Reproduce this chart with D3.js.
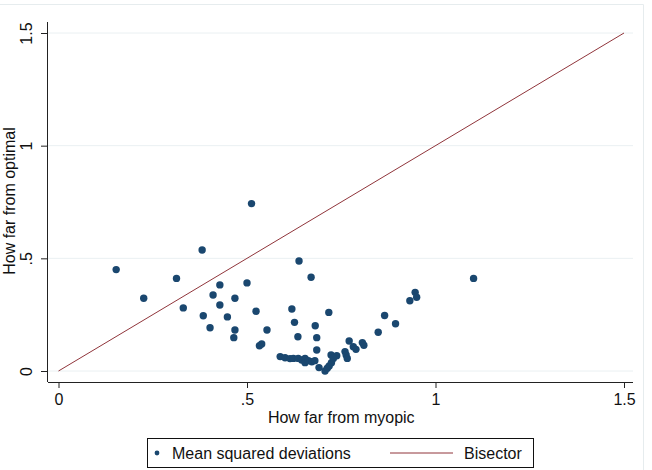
<!DOCTYPE html>
<html>
<head>
<meta charset="utf-8">
<script src="https://cdn.jsdelivr.net/npm/d3@7"></script>
<style>
  body { margin: 0; background: #fff; }
  text { font-family: "Liberation Sans", Arial, sans-serif; fill: #111; }
</style>
</head>
<body>
<div id="graf"></div>
<script>
// datos: distancia al miope (x) y al optimo (y)
var myopic = [0.153, 0.226, 0.313, 0.331, 0.381, 0.384, 0.402, 0.410, 0.428, 0.428,
  0.448, 0.468, 0.468, 0.465, 0.500, 0.512, 0.524, 0.533, 0.539, 0.553,
  0.638, 0.670, 0.619, 0.626, 0.635, 0.681, 0.685, 0.685, 0.717,
  0.588, 0.601, 0.614, 0.623, 0.636, 0.645, 0.654, 0.654, 0.663, 0.672,
  0.680, 0.691, 0.707, 0.713, 0.718, 0.724, 0.723, 0.738, 0.729,
  0.760, 0.763, 0.766, 0.771, 0.782, 0.789, 0.806, 0.810,
  0.848, 0.865, 0.894, 0.932, 0.946, 0.950, 1.101]
var optimal = [0.450, 0.323, 0.411, 0.280, 0.537, 0.245, 0.192, 0.337, 0.382, 0.293,
  0.240, 0.323, 0.182, 0.148, 0.391, 0.743, 0.265, 0.112, 0.120, 0.182,
  0.488, 0.416, 0.275, 0.216, 0.152, 0.201, 0.148, 0.093, 0.260,
  0.064, 0.059, 0.055, 0.056, 0.056, 0.049, 0.056, 0.037, 0.046, 0.041,
  0.046, 0.015, 0.000, 0.012, 0.022, 0.037, 0.071, 0.068, 0.056,
  0.086, 0.071, 0.056, 0.133, 0.108, 0.096, 0.126, 0.114,
  0.172, 0.246, 0.210, 0.312, 0.349, 0.327, 0.411]
var bisector = [0, 1.5]
var xTicks = [0, 0.5, 1, 1.5]
var yTicks = [0, 0.5, 1, 1.5]
var tickLabel = d => d === 0 ? '0' : (d < 1 ? String(d).slice(1) : String(d))

var data = myopic.map((d, i) => ({ x: d, y: optimal[i] }))

var ancho_total = 652, alto_total = 470
var svg = d3.select('#graf').append('svg')
  .attr('width', ancho_total).attr('height', alto_total)

var x = d3.scaleLinear().domain([0, 1.5]).range([58.5, 624])
var y = d3.scaleLinear().domain([0, 1.5]).range([371, 33])

var navy = '#1a476f', maroon = '#90353b'
var fuente = '"Liberation Sans", Arial, sans-serif'

// marco tenue
svg.append('path')
  .attr('d', 'M0,4.5 H643.5 V470')
  .attr('fill', 'none').attr('stroke', '#e6ecee')

// lineas de grilla
svg.append('g').selectAll('line').data(yTicks).enter().append('line')
  .attr('x1', 48).attr('x2', 633)
  .attr('y1', d => y(d)).attr('y2', d => y(d))
  .attr('stroke', '#eaf0f2').attr('stroke-width', 1)

// ejes
var xAxis = svg.append('g').attr('transform', 'translate(0,382)')
  .call(d3.axisBottom(x).tickValues(xTicks).tickFormat(tickLabel).tickSizeOuter(0).tickSize(6).tickPadding(6))
xAxis.select('.domain').attr('d', 'M48,0.5H633').attr('stroke', '#222')
xAxis.selectAll('.tick line').attr('stroke', '#222')
xAxis.selectAll('.tick text').attr('font-size', 16).attr('fill', '#111')
  .attr('font-family', fuente)

var yAxis = svg.append('g').attr('transform', 'translate(48,0)')
  .call(d3.axisLeft(y).tickValues(yTicks).tickFormat(tickLabel).tickSizeOuter(0).tickSize(7))
yAxis.select('.domain').attr('d', 'M-0.5,22V382').attr('stroke', '#222')
yAxis.selectAll('.tick line').attr('stroke', '#222')
yAxis.selectAll('.tick text')
  .attr('font-size', 16).attr('fill', '#111')
  .attr('font-family', fuente)
  .attr('x', null).attr('dy', null)
  .attr('text-anchor', 'middle')
  .attr('transform', 'translate(-16,0) rotate(-90)')

// titulos de ejes
svg.append('text').attr('x', x(0.75)).attr('y', 423)
  .attr('text-anchor', 'middle').attr('font-size', 16)
  .text('How far from myopic')
svg.append('text')
  .attr('transform', `translate(15,${ y(0.75) - 1 }) rotate(-90)`)
  .attr('text-anchor', 'middle').attr('font-size', 16)
  .text('How far from optimal')

// bisectriz
svg.append('line')
  .attr('x1', x(bisector[0])).attr('y1', y(bisector[0]))
  .attr('x2', x(bisector[1])).attr('y2', y(bisector[1]))
  .attr('stroke', maroon).attr('stroke-width', 1)

// puntos
svg.append('g').selectAll('circle').data(data).enter().append('circle')
  .attr('cx', d => x(d.x)).attr('cy', d => y(d.y))
  .attr('r', 3.7).attr('fill', navy)

// leyenda
var leg = svg.append('g')
leg.append('rect').attr('x', 147.5).attr('y', 438.5).attr('width', 386).attr('height', 29)
  .attr('fill', '#fff').attr('stroke', '#111').attr('stroke-width', 1)
leg.append('circle').attr('cx', 157).attr('cy', 453).attr('r', 2.4).attr('fill', navy)
leg.append('text').attr('x', 172).attr('y', 459).attr('font-size', 16).text('Mean squared deviations')
leg.append('line').attr('x1', 390).attr('x2', 453).attr('y1', 453).attr('y2', 453)
  .attr('stroke', maroon).attr('stroke-width', 1)
leg.append('text').attr('x', 464).attr('y', 459).attr('font-size', 16).text('Bisector')
</script>
</body>
</html>
